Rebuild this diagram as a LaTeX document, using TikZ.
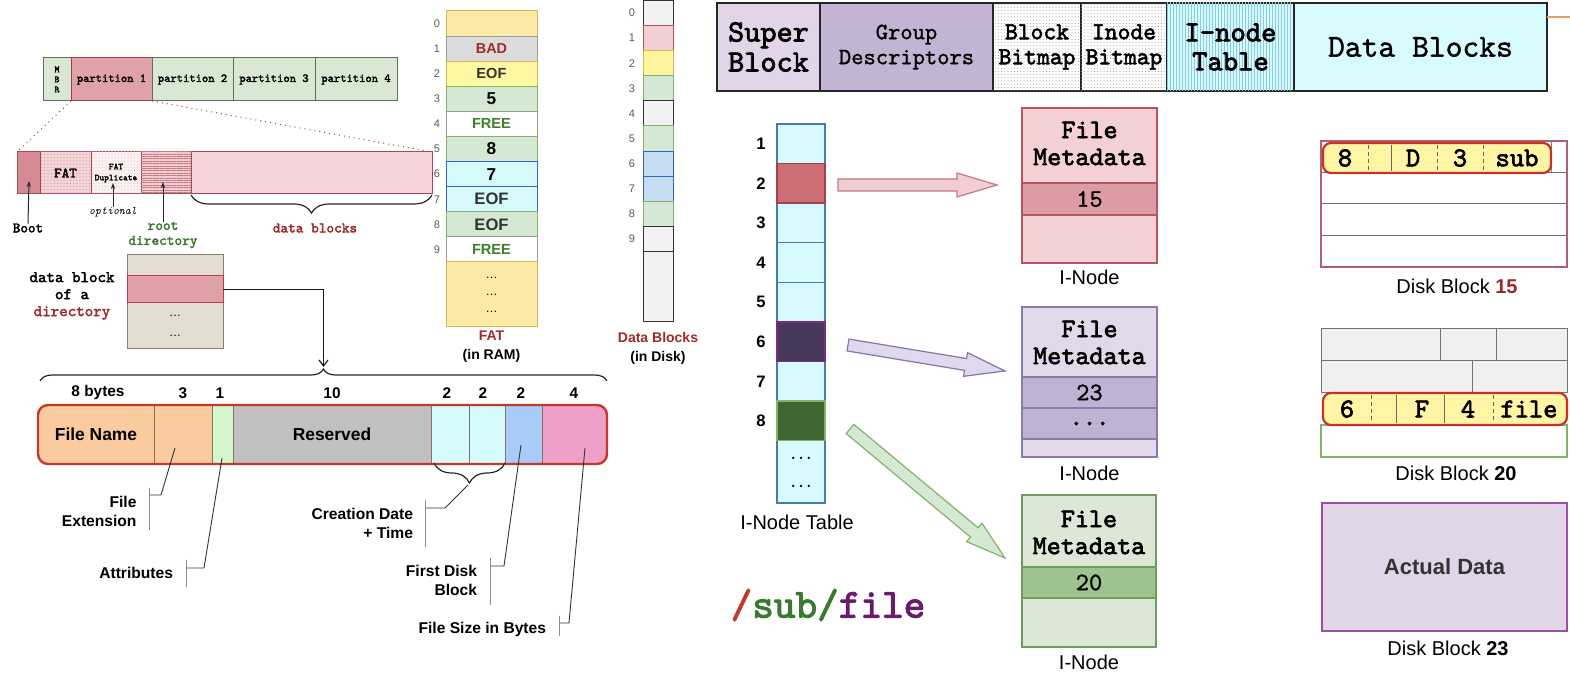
\documentclass[tikz,border=0pt]{standalone}
\usepackage{fontspec}
\setmainfont{Liberation Sans}
\newcommand\mono{\ttfamily}
\newfontfamily\monob{lmmono10-regular.otf}[FakeBold=2.4]
\newfontfamily\monom{lmmono10-regular.otf}[FakeBold=1.1]
\usetikzlibrary{arrows.meta,decorations.pathreplacing,patterns.meta,calc}
\newcommand\fs[2]{\fontsize{#1pt}{#2pt}\selectfont}
\newcommand\bx[7]{\node[box,#6,minimum width={((#4)-(#2))*0.5pt},minimum height={((#5)-(#3))*0.5pt}] (#1) at ({((#2)+(#4))/2},{((#3)+(#5))/2}) {#7};}
\newcommand\blockarrow[4]{%
  \coordinate (#1h) at ($(#3)!20pt!(#2)$);
  \draw[#4] ($(#2)!3pt!90:(#3)$) -- ($(#1h)!3pt!90:(#3)$) -- ($(#1h)!6pt!90:(#3)$) -- (#3) -- ($(#1h)!6pt!-90:(#3)$) -- ($(#1h)!3pt!-90:(#3)$) -- ($(#2)!3pt!-90:(#3)$) -- cycle;}
\definecolor{mbrF}{HTML}{D9E8D3}\definecolor{mbrD}{HTML}{5F6F5A}
\definecolor{p1F}{HTML}{E0A2A9}\definecolor{p1D}{HTML}{A33B4A}
\definecolor{barD}{HTML}{A34A58}\definecolor{bootF}{HTML}{D58A93}
\definecolor{fatF}{HTML}{F3D5D8}\definecolor{fatP}{HTML}{D38C95}
\definecolor{dupF}{HTML}{FBF1F2}\definecolor{rootF}{HTML}{F0CDD1}
\definecolor{rootP}{HTML}{C87C86}\definecolor{datF}{HTML}{F3D3D7}
\definecolor{darkred}{HTML}{9E2A2A}\definecolor{dgreen}{HTML}{3B7A2E}
\definecolor{fatY}{HTML}{FCE9A6}\definecolor{goldD}{HTML}{D6B656}
\definecolor{badF}{HTML}{DCDCDC}\definecolor{grayD}{HTML}{999999}
\definecolor{eofY}{HTML}{FFF8A3}\definecolor{grnF}{HTML}{D5E8D4}
\definecolor{grnD}{HTML}{82B366}\definecolor{cyF}{HTML}{D6FAFC}
\definecolor{bluD}{HTML}{3366CC}\definecolor{freeG}{HTML}{3D7F2C}
\definecolor{dbGray}{HTML}{F2F2F2}\definecolor{dbPink}{HTML}{F2CFD4}
\definecolor{dbPinkD}{HTML}{B85450}\definecolor{dbYel}{HTML}{FFF59E}
\definecolor{dbBlue}{HTML}{C6DCF0}\definecolor{dirF}{HTML}{E2DDD0}
\definecolor{dirD}{HTML}{8A7F6E}\definecolor{hlF}{HTML}{DFA0A8}
\definecolor{hlD}{HTML}{B04050}\definecolor{recD}{HTML}{C0392B}
\definecolor{fnF}{HTML}{FACB9E}\definecolor{atF}{HTML}{D5F7CE}
\definecolor{resF}{HTML}{C0C0C0}\definecolor{dtF}{HTML}{D6FBFD}
\definecolor{fbF}{HTML}{A9CBF7}\definecolor{szF}{HTML}{F0A0C8}
\definecolor{segD}{HTML}{8A6F62}\definecolor{sbF}{HTML}{E1D5E7}
\definecolor{gdF}{HTML}{C3B4D3}\definecolor{itbF}{HTML}{D6FAFD}
\definecolor{itbP}{HTML}{8CCBDC}\definecolor{dbkF}{HTML}{D7FBFF}
\definecolor{topD}{HTML}{262626}\definecolor{orng}{HTML}{E8A060}
\definecolor{itD}{HTML}{4A7BA8}\definecolor{it2F}{HTML}{CD6E74}
\definecolor{it2D}{HTML}{A04050}\definecolor{it6F}{HTML}{48385C}
\definecolor{it6D}{HTML}{7B2C7F}\definecolor{it8F}{HTML}{3F6632}
\definecolor{arR}{HTML}{F2CDD2}\definecolor{arRD}{HTML}{C07A86}
\definecolor{arP}{HTML}{E0D8EC}\definecolor{arPD}{HTML}{8575A8}
\definecolor{arG}{HTML}{D5E8D4}\definecolor{arGD}{HTML}{82B366}
\definecolor{i1F}{HTML}{F2D0D4}\definecolor{i1D}{HTML}{B85560}
\definecolor{i1r}{HTML}{DC9CA4}\definecolor{i2F}{HTML}{E1D9EA}
\definecolor{i2D}{HTML}{8A7AAE}\definecolor{i2r}{HTML}{C1B2D3}
\definecolor{i3F}{HTML}{DCE8D5}\definecolor{i3D}{HTML}{6E9E5E}
\definecolor{i3r}{HTML}{9DC48E}\definecolor{d15D}{HTML}{B06070}
\definecolor{entF}{HTML}{FEF6A5}\definecolor{entD}{HTML}{C8302A}
\definecolor{d20F}{HTML}{F0F0F0}\definecolor{d23F}{HTML}{E1D5E7}
\definecolor{d23D}{HTML}{9A50A0}\definecolor{slr}{HTML}{C0392B}
\definecolor{subg}{HTML}{3A7A30}\definecolor{filep}{HTML}{6A1B6A}
\begin{document}
\begin{tikzpicture}[x=0.5pt,y=-0.5pt,
  box/.style={draw,inner sep=0pt,outer sep=0pt,line width=0.5pt},
  lbl/.style={inner sep=0pt,outer sep=0pt},
  idx/.style={lbl,text=black!65,font=\fs{5.5}{6}},
  lblarr/.style={draw=black!85,line width=0.5pt,-{Stealth[length=3pt,width=2.2pt]}},
  brc/.style={draw=black!85,line width=0.6pt,decorate},
  callout/.style={draw=black!80,line width=0.45pt},
  bracket/.style={draw=black!45,line width=0.5pt},
  cl/.style={lbl,align=right,anchor=east,font={\bfseries\fs{7.8}{9.5}}},
  szl/.style={lbl,font={\bfseries\fs{7.7}{9}}},
  pf/.style={font={\monob\fs{6}{7}}},
  ff/.style={font={\bfseries\fs{7.3}{8}}},
  fbig/.style={font={\bfseries\fs{8.6}{9}}},
  itnum/.style={lbl,font={\bfseries\fs{8.3}{9}}},
  meta/.style={lbl,align=center,font={\monob\fs{13.4}{13.5}}},
  numf/.style={font={\monom\fs{12.6}{13}}},
  capf/.style={lbl,font=\fs{10}{12}},
  entl/.style={lbl,font={\monob\fs{13.6}{14}}},
  ediv/.style={draw=black!60,line width=0.4pt},
  edivd/.style={draw=black!60,line width=0.4pt,dash pattern=on 2pt off 1.5pt},
  rowl/.style={draw=black!55,line width=0.5pt}]
\useasboundingbox (0,0) rectangle (1570,689);

% ---------- MBR / partitions ----------
\bx{mbr}{43}{58}{71}{101}{fill=mbrF,draw=mbrD,align=center,font={\monob\fs{4.8}{5}}}{M\\B\\R}
\bx{pa}{71}{58}{152}{101}{fill=p1F,draw=p1D,pf}{partition 1}
\bx{pb}{152}{58}{233}{101}{fill=mbrF,draw=mbrD,pf}{partition 2}
\bx{pc}{233}{58}{315}{101}{fill=mbrF,draw=mbrD,pf}{partition 3}
\bx{pd}{315}{58}{397}{101}{fill=mbrF,draw=mbrD,pf}{partition 4}

\bx{boot}{17}{152}{40}{194}{fill=bootF,draw=barD}{}
\bx{fat}{40}{152}{91}{194}{fill=fatF,draw=barD,postaction={pattern={Dots[distance=1.6pt,radius=0.3pt]},pattern color=fatP},font={\monob\fs{7.2}{8}}}{FAT}
\bx{fatdup}{91}{152}{141}{194}{fill=dupF,draw=barD,postaction={pattern={Dots[distance=1.6pt,radius=0.25pt]},pattern color=fatP!60},align=center,font={\monob\fs{4.5}{5.5}}}{FAT\\Duplicate}
\bx{rootd}{141}{152}{191}{194}{fill=rootF,draw=barD,postaction={pattern={Lines[angle=0,distance=1.2pt,line width=0.25pt]},pattern color=rootP}}{}
\bx{datab}{191}{152}{432}{194}{fill=datF,draw=barD}{}
\draw[dotted,draw=p1D,line width=0.5pt] (pa.south west) -- (boot.north west);
\draw[dotted,draw=p1D,line width=0.5pt] (pa.south east) -- (datab.north east);

\node[lbl,font={\monob\fs{7.2}{8}}] (bootlbl) at (28,228) {Boot};
\node[lbl,font={\mono\itshape\fs{5.7}{6}}] (optlbl) at (113,212) {optional};
\node[lbl,align=center,text=dgreen,font={\monob\fs{7.3}{7.5}}] (rootlbl) at (163,235) {root\\directory};
\node[lbl,text=darkred,font={\monob\fs{7.3}{8}}] (datablbl) at (315,228) {data blocks};
\coordinate (boottip) at (29,181);
\coordinate (opttip) at (113,183);
\coordinate (roottip) at (163,182);
\draw[lblarr] (bootlbl.north) -- (boottip);
\draw[lblarr] (optlbl.north) -- (opttip);
\draw[lblarr] (rootlbl.north) -- (roottip);
\draw[brc,decoration={brace,amplitude=9pt}] ($(datab.south east)+(0,1)$) -- ($(datab.south west)+(0,1)$);

% ---------- FAT ----------
\bx{fat0}{446}{11}{537}{36.1}{fill=fatY,draw=goldD}{}
\bx{fat1}{446}{36.1}{537}{61.2}{fill=badF,draw=grayD,text=darkred,font={\bfseries\fs{7.2}{8}}}{BAD}
\bx{fat2}{446}{61.2}{537}{86.3}{fill=eofY,draw=goldD,text=black!80,ff}{EOF}
\bx{fat3}{446}{86.3}{537}{111.4}{fill=grnF,draw=grnD,fbig}{5}
\bx{fat4}{446}{111.4}{537}{136.5}{fill=white,draw=grayD,text=freeG,ff}{FREE}
\bx{fat5}{446}{136.5}{537}{161.6}{fill=grnF,draw=grnD,fbig}{8}
\bx{fat6}{446}{161.6}{537}{186.7}{fill=cyF,draw=bluD,fbig}{7}
\bx{fat7}{446}{186.7}{537}{211.8}{fill=cyF,draw=bluD,text=black!80,font={\bfseries\fs{8.3}{9}}}{EOF}
\bx{fat8}{446}{211.8}{537}{236.9}{fill=grnF,draw=grnD,text=black!80,font={\bfseries\fs{8.3}{9}}}{EOF}
\bx{fat9}{446}{236.9}{537}{262}{fill=white,draw=grayD,text=freeG,ff}{FREE}
\bx{fatr}{446}{262}{537}{327}{fill=fatY,draw=goldD,align=center,font={\fs{6}{8.5}}}{\ldots\\\ldots\\\ldots}
\foreach \i in {0,...,9} \node[idx] (fi\i) at (437,{23.55+25.1*\i}) {\i};
\node[lbl,align=center,font={\bfseries\fs{7}{9.5}}] (fatlbl) at (491.5,347) {\textcolor{darkred}{FAT}\\(in RAM)};

% ---------- Data blocks column ----------
\bx{db0}{643}{0.5}{673}{25.6}{fill=dbGray,draw=black!80}{}
\bx{db1}{643}{25.6}{673}{50.7}{fill=dbPink,draw=dbPinkD}{}
\bx{db2}{643}{50.7}{673}{75.8}{fill=dbYel,draw=goldD}{}
\bx{db3}{643}{75.8}{673}{100.9}{fill=grnF,draw=grnD}{}
\bx{db4}{643}{100.9}{673}{126}{fill=dbGray,draw=black!80}{}
\bx{db5}{643}{126}{673}{151.1}{fill=grnF,draw=grnD}{}
\bx{db6}{643}{151.1}{673}{176.2}{fill=dbBlue,draw=bluD}{}
\bx{db7}{643}{176.2}{673}{201.3}{fill=dbBlue,draw=bluD}{}
\bx{db8}{643}{201.3}{673}{226.4}{fill=grnF,draw=grnD}{}
\bx{db9}{643}{226.4}{673}{251.5}{fill=dbGray,draw=black!80}{}
\bx{dbr}{643}{251.5}{673}{322}{fill=dbGray,draw=black!80}{}
\foreach \i in {0,...,9} \node[idx] (di\i) at (632,{13+25.1*\i}) {\i};
\node[lbl,align=center,font={\bfseries\fs{7}{9.5}}] (dblbl) at (658,348) {\textcolor{darkred}{Data Blocks}\\(in Disk)};

% ---------- directory data block ----------
\bx{dtop}{127}{255}{223}{276}{fill=dirF,draw=dirD}{}
\bx{drest}{127}{303}{223}{349}{fill=dirF,draw=dirD,align=center,font={\fs{6}{10}}}{\ldots\\\ldots}
\bx{dhl}{127}{276}{223}{303}{fill=hlF,draw=hlD}{}
\node[lbl,align=center,font={\monob\fs{8.1}{8.5}}] (dirlbl) at (72,296) {data block\\of a\\\textcolor{darkred}{directory}};

% ---------- directory entry record ----------
\coordinate (rbtip) at (323.5,367);
\draw[draw=black!90,line width=0.6pt,-{Straight Barb[length=3pt,width=4.5pt]}] (dhl.east) -| (rbtip);
\draw[brc,decoration={brace,amplitude=6pt}] (40,381) -- (607,381);
\node[szl] (s1) at (98,393) {8 bytes};
\node[szl] (s2) at (183,393) {3};
\node[szl] (s3) at (220,393) {1};
\node[szl] (s4) at (332,393) {10};
\node[szl] (s5) at (447,393) {2};
\node[szl] (s6) at (483,393) {2};
\node[szl] (s7) at (521,393) {2};
\node[szl] (s8) at (574,393) {4};
\begin{scope}
\clip[rounded corners=5pt] (38,405) rectangle (607,464);
\bx{fname}{38}{405}{154}{464}{fill=fnF,draw=segD,font={\bfseries\fs{8.7}{10}}}{File Name}
\bx{fext}{154}{405}{212}{464}{fill=fnF,draw=segD}{}
\bx{fattr}{212}{405}{233}{464}{fill=atF,draw=segD}{}
\bx{fres}{233}{405}{431}{464}{fill=resF,draw=segD,font={\bfseries\fs{8.7}{10}}}{Reserved}
\bx{fd1}{431}{405}{469}{464}{fill=dtF,draw=segD}{}
\bx{fd2}{469}{405}{505}{464}{fill=dtF,draw=segD}{}
\bx{ffb}{505}{405}{542}{464}{fill=fbF,draw=segD}{}
\bx{fsz}{542}{405}{607}{464}{fill=szF,draw=segD}{}
\end{scope}
\draw[draw=recD,line width=1.2pt,rounded corners=5pt] (38,405) rectangle (607,464);

% callouts
\coordinate (cext) at (175,448);
\coordinate (cattr) at (222,458);
\coordinate (cfb) at (521,445);
\coordinate (csz) at (585,448);
\draw[brc,decoration={brace,amplitude=10pt}] ($(fd2.south east)+(0,-1)$) -- ($(fd1.south west)+(3,-1)$);
\coordinate (cdt) at (468,485);

\node[cl] (lext) at (136.5,511) {File\\Extension};
\draw[callout] (cext) -- (161,495) -- (149,495);
\draw[bracket] (149,488) -- (149,530);

\node[cl] (lattr) at (173,573) {Attributes};
\draw[callout] (cattr) -- (204,568) -- (186,568);
\draw[bracket] (186,560) -- (186,587);

\node[cl] (ldt) at (413,523) {Creation Date\\+ Time};
\draw[callout] (cdt) -- (445,508) -- (425,508);
\draw[bracket] (425,500) -- (425,547);

\node[cl] (lfb) at (477,580) {First Disk\\Block};
\draw[callout] (cfb) -- (504,566) -- (490,566);
\draw[bracket] (490,558) -- (490,605);

\node[cl] (lsz) at (546,629) {File Size in Bytes};
\draw[callout] (csz) -- (569,623) -- (559.5,623);
\draw[bracket] (559.5,616) -- (559.5,636);

% ---------- ext2 layout bar ----------
\bx{sb}{717}{3}{820}{91}{fill=sbF,draw=topD,line width=1pt,align=center,font={\monob\fs{15.4}{15}}}{Super\\Block}
\bx{gd}{820}{3}{993}{91}{fill=gdF,draw=topD,line width=1pt,align=center,font={\monom\fs{11.7}{12.5}}}{Group\\Descriptors}
\bx{bbm}{993}{3}{1081}{91}{fill=white,draw=topD,line width=1pt,postaction={pattern={Dots[distance=1.6pt,radius=0.25pt]},pattern color=black!45},align=center,font={\monob\fs{12.2}{12.5}}}{Block\\Bitmap}
\bx{ibm}{1081}{3}{1167}{91}{fill=white,draw=topD,line width=1pt,postaction={pattern={Dots[distance=1.6pt,radius=0.25pt]},pattern color=black!45},align=center,font={\monob\fs{12.2}{12.5}}}{Inode\\Bitmap}
\bx{itb}{1167}{3}{1294}{91}{fill=itbF,draw=topD,line width=1pt,postaction={pattern={Lines[angle=90,distance=1.5pt,line width=0.3pt]},pattern color=itbP},align=center,font={\monob\fs{14.6}{14.5}}}{I-node\\Table}
\bx{dbk}{1294}{3}{1547}{91}{fill=dbkF,draw=topD,line width=1pt,font={\monom\fs{16}{16}}}{Data Blocks}
\coordinate (orgA) at (1547,17);
\coordinate (orgB) at (1570,17);
\draw[draw=orng,line width=0.8pt] (orgA) -- (orgB);

% ---------- I-node table ----------
\bx{it1}{777}{124}{825}{163.6}{fill=itbF,draw=itD,line width=0.7pt}{}
\bx{it3}{777}{203.2}{825}{242.8}{fill=itbF,draw=itD,line width=0.7pt}{}
\bx{it4}{777}{242.8}{825}{282.4}{fill=itbF,draw=itD,line width=0.7pt}{}
\bx{it5}{777}{282.4}{825}{322}{fill=itbF,draw=itD,line width=0.7pt}{}
\bx{it7}{777}{361.6}{825}{401.2}{fill=itbF,draw=itD,line width=0.7pt}{}
\bx{itr}{777}{440.8}{825}{503}{fill=itbF,draw=itD,line width=0.7pt,align=center,font={\monob\fs{7.4}{14}}}{...\\...}
\bx{it2}{777}{163.6}{825}{203.2}{fill=it2F,draw=it2D,line width=0.7pt}{}
\bx{it6}{777}{322}{825}{361.6}{fill=it6F,draw=it6D,line width=0.7pt}{}
\bx{it8}{777}{401.2}{825}{440.8}{fill=it8F,draw=arGD,line width=0.7pt}{}
\foreach \i in {1,...,8} \node[itnum] (itn\i) at (761,{143.8+39.6*(\i-1)}) {\i};
\node[capf] (itlbl) at (797,522) {I-Node Table};

% block arrows
\coordinate (raA) at (838,185); \coordinate (raB) at (997,185);
\coordinate (paA) at (848,345); \coordinate (paB) at (1005,371);
\coordinate (gaA) at (850,429); \coordinate (gaB) at (1005,558);
\blockarrow{ra}{raA}{raB}{fill=arR,draw=arRD,line width=0.6pt}
\blockarrow{pa}{paA}{paB}{fill=arP,draw=arPD,line width=0.6pt}
\blockarrow{ga}{gaA}{gaB}{fill=arG,draw=arGD,line width=0.6pt}

% ---------- I-nodes ----------
\bx{in1}{1022}{108}{1157}{263}{fill=i1F,draw=i1D,line width=0.7pt}{}
\bx{in1r}{1022}{183}{1157}{215}{fill=i1r,draw=i1D,line width=0.7pt,numf}{15}
\node[meta] (in1t) at (1089.5,143.5) {File\\Metadata};
\node[capf] (in1l) at (1089.5,277) {I-Node};

\bx{in2}{1022}{307}{1157}{457}{fill=i2F,draw=i2D,line width=0.7pt}{}
\bx{in2r}{1022}{377}{1157}{408}{fill=i2r,draw=i2D,line width=0.7pt,numf}{23}
\bx{in2s}{1022}{408}{1157}{439}{fill=i2r,draw=i2D,line width=0.7pt,font={\monob\fs{12.6}{13}}}{...}
\node[meta] (in2t) at (1089.5,342.5) {File\\Metadata};
\node[capf] (in2l) at (1089.5,473) {I-Node};

\bx{in3}{1022}{495}{1156}{647}{fill=i3F,draw=i3D,line width=0.7pt}{}
\bx{in3r}{1022}{567}{1156}{598}{fill=i3r,draw=i3D,line width=0.7pt,numf}{20}
\node[meta] (in3t) at (1089,532.5) {File\\Metadata};
\node[capf] (in3l) at (1089,662) {I-Node};

\node[lbl,font={\monob\fs{20.6}{21}}] (path) at (828,605) {\textcolor{slr}{/}\textcolor{subg}{sub/}\textcolor{filep}{file}};

% ---------- Disk block 15 ----------
\bx{c15}{1551}{141}{1567}{173}{draw=black!50}{}
\bx{r15b}{1321}{173}{1567}{204}{rowl}{}
\bx{r15c}{1321}{204}{1567}{236}{rowl}{}
\bx{r15d}{1321}{236}{1567}{267}{rowl}{}
\bx{db15}{1321}{141}{1567}{267}{draw=d15D,line width=0.6pt}{}
\bx{e15}{1323}{143}{1551}{173}{fill=entF,draw=entD,line width=1.1pt,rounded corners=4pt}{}
\draw[edivd] (1368,145) -- (1368,171);
\draw[ediv] (1391,145) -- (1391,171);
\draw[edivd] (1437,145) -- (1437,171);
\draw[edivd] (1483,145) -- (1483,171);
\node[entl] (e15a) at (1345,158) {8};
\node[entl] (e15b) at (1413,158) {D};
\node[entl] (e15c) at (1460,158) {3};
\node[entl] (e15d) at (1517,158) {sub};
\node[capf] (l15) at (1457,286) {Disk Block \textcolor{darkred}{\bfseries 15}};

% ---------- Disk block 20 ----------
\bx{r20a}{1321}{329}{1440}{361}{fill=d20F,rowl}{}
\bx{r20b}{1440}{329}{1496}{361}{fill=d20F,rowl}{}
\bx{r20c}{1496}{329}{1567}{361}{fill=d20F,rowl}{}
\bx{r20d}{1321}{361}{1472}{393}{fill=d20F,rowl}{}
\bx{r20e}{1472}{361}{1567}{393}{fill=d20F,rowl}{}
\bx{r20f}{1321}{425}{1567}{457}{draw=grnD,line width=0.6pt}{}
\bx{e20}{1323}{393}{1567}{425}{fill=entF,draw=entD,line width=1.1pt,rounded corners=4pt}{}
\draw[edivd] (1371,395) -- (1371,423);
\draw[ediv] (1396,395) -- (1396,423);
\draw[ediv] (1444,395) -- (1444,423);
\draw[edivd] (1493,395) -- (1493,423);
\node[entl] (e20a) at (1347,409) {6};
\node[entl] (e20b) at (1422,409) {F};
\node[entl] (e20c) at (1468,409) {4};
\node[entl] (e20d) at (1529,409) {file};
\node[capf] (l20) at (1456,473) {Disk Block {\bfseries 20}};

% ---------- Disk block 23 ----------
\bx{db23}{1322}{503}{1567}{631}{fill=d23F,draw=d23D,line width=1pt,text=black!80,font={\bfseries\fs{11}{12}}}{Actual Data}
\node[capf] (l23) at (1448,648) {Disk Block {\bfseries 23}};
\end{tikzpicture}
\end{document}
